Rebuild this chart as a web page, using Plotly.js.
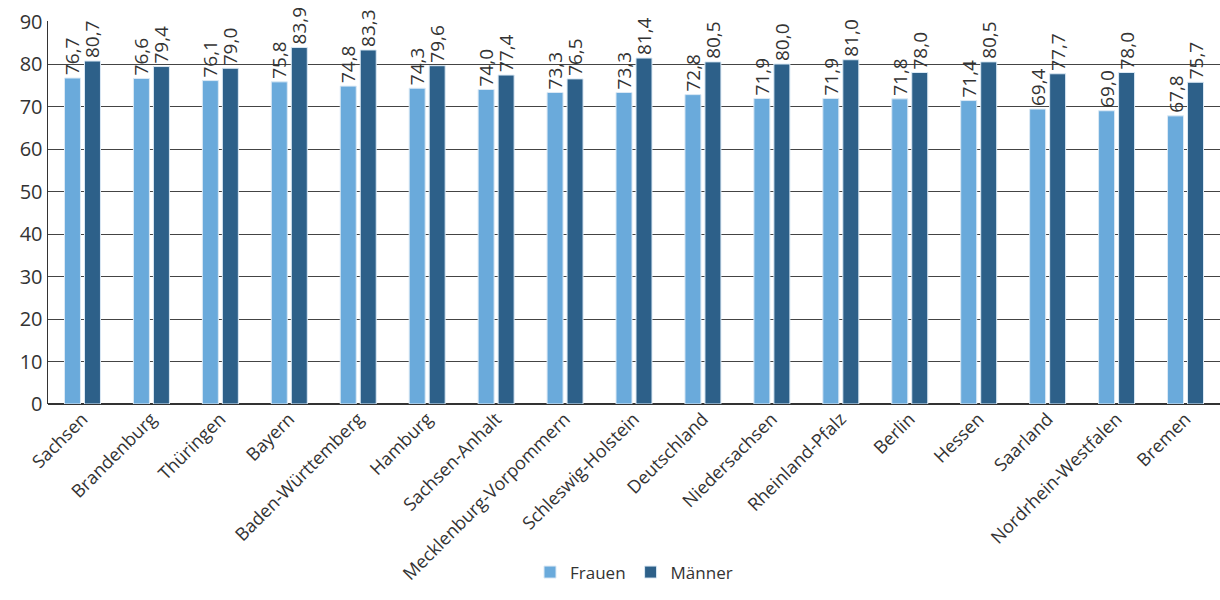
<!DOCTYPE html>
<html><head><meta charset="utf-8">
<script src="https://cdn.plot.ly/plotly-3.0.1.min.js"></script>
<style>html,body{margin:0;padding:0;background:#fff}#c{width:1220px;height:600px}</style>
</head><body><div id="c"></div>
<script>
const categories = ["Sachsen","Brandenburg","Thüringen","Bayern","Baden-Württemberg","Hamburg","Sachsen-Anhalt","Mecklenburg-Vorpommern","Schleswig-Holstein","Deutschland","Niedersachsen","Rheinland-Pfalz","Berlin","Hessen","Saarland","Nordrhein-Westfalen","Bremen"];
const frauen = [76.7,76.6,76.1,75.8,74.8,74.3,74.0,73.3,73.3,72.8,71.9,71.9,71.8,71.4,69.4,69.0,67.8];
const maenner = [80.7,79.4,79.0,83.9,83.3,79.6,77.4,76.5,81.4,80.5,80.0,81.0,78.0,80.5,77.7,78.0,75.7];
const yTicks = [0,10,20,30,40,50,60,70,80,90];

const font = "Open Sans, Noto Sans, sans-serif";
const common = {type:'bar', x:categories, textposition:'outside', textangle:-90,
  texttemplate:'%{y:.1f}', cliponaxis:false, constraintext:'none',
  textfont:{family:font,size:19,color:'#333'}, hoverinfo:'skip'};
const data = [
  Object.assign({}, common, {name:'Frauen', y:frauen, marker:{color:'#6aaadb', line:{color:'#dbe9f5',width:1}}}),
  Object.assign({}, common, {name:'Männer', y:maenner, marker:{color:'#2d6089', line:{color:'#dbe9f5',width:1}}})
];
const layout = {
  width:1220, height:600,
  margin:{l:48, r:0, t:21, b:196},
  paper_bgcolor:'#fff', plot_bgcolor:'#fff',
  separators:',.',
  barmode:'group', bargap:0.42, bargroupgap:0.2,
  font:{family:font, color:'#333'},
  xaxis:{tickangle:-45, tickfont:{family:font,size:18,color:'#333'}, showline:false, ticks:'', automargin:false},
  yaxis:{range:[0,90.12], tickvals:yTicks, showgrid:true, gridcolor:'#444', gridwidth:1,
    zeroline:true, zerolinecolor:'#333', zerolinewidth:2,
    showline:true, linecolor:'#333', linewidth:1.5,
    tickfont:{family:font,size:20,color:'#333'}, ticks:'', ticklen:0, automargin:false},
  showlegend:true,
  legend:{orientation:'h', x:0.5, xanchor:'center', y:-0.44, yanchor:'middle',
    font:{family:font,size:17,color:'#333'}, itemwidth:20, tracegroupgap:0}
};
Plotly.newPlot('c', data, layout, {displayModeBar:false, staticPlot:true});
</script></body></html>
